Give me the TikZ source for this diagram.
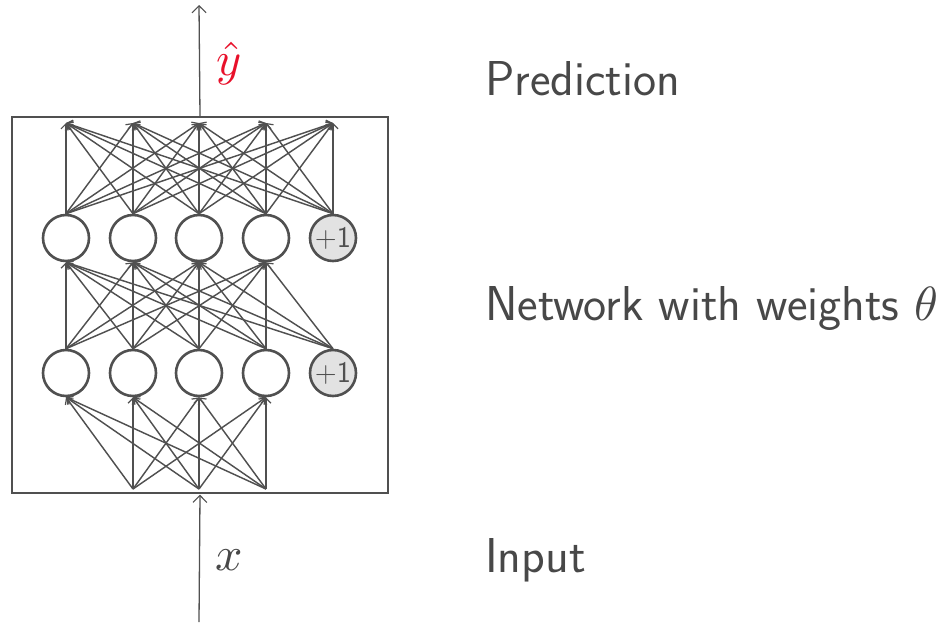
\documentclass[tikz,border=0pt]{standalone}
\usetikzlibrary{arrows.meta}
\definecolor{ln}{HTML}{505050}
\definecolor{txt}{HTML}{484848}
\definecolor{biasfill}{HTML}{E2E2E2}
\definecolor{yred}{HTML}{E8102A}
\begin{document}
\begin{tikzpicture}[x=1pt,y=-1pt,
  neuron/.style={circle,draw=ln,line width=2.6pt,minimum size=46pt,inner sep=0pt,fill=white},
  bias/.style={neuron,fill=biasfill,font=\sffamily\fontsize{30}{30}\selectfont,text=ln},
  wire/.style={draw=ln,line width=1.45pt,-{Straight Barb[length=5pt,width=10pt,line width=1.2pt]}},
  main/.style={draw=ln,line width=1.3pt,-{Straight Barb[length=7pt,width=14pt,line width=1.1pt]}},
  lbl/.style={anchor=base west,inner sep=0pt,text=txt,font=\sffamily\fontsize{49}{54}\selectfont},
  mlbl/.style={anchor=base,inner sep=0pt,font=\normalsize,scale=4.8}]
\useasboundingbox (0,0) rectangle (949,624);
% frame
\node[draw=ln,line width=1.4pt,minimum width=376pt,minimum height=376pt,inner sep=0pt] (frame) at (200,305) {};
% top targets
\foreach \i/\x in {1/66,2/133,3/199,4/266,5/333} {\coordinate (t\i) at (\x,123);}
% inputs
\foreach \i/\x in {1/133,2/199,3/266} {\coordinate (in\i) at (\x,489);}
% hidden layers
\foreach \i/\x in {1/66,2/133,3/199,4/266} {
  \node[neuron] (u\i) at (\x,238) {};
  \node[neuron] (l\i) at (\x,373) {};
}
\node[bias] (u5) at (333,238) {+1};
\node[bias] (l5) at (333,373) {+1};
% connections
\foreach \s in {1,...,5} {\foreach \t in {1,...,5} {\draw[wire] (u\s.north) -- (t\t);}}
\foreach \s in {1,...,5} {\foreach \t in {1,...,4} {\draw[wire] (l\s.north) -- (u\t.south);}}
\foreach \s in {1,2,3} {\foreach \t in {1,...,4} {\draw[wire] (in\s) -- (l\t.south);}}
% main arrows
\coordinate (outtip) at (199,5);
\coordinate (inbot) at (199,622);
\draw[main] (frame.north) -- (outtip);
\draw[main] (inbot) -- ([yshift=-1pt]frame.south);
\node[mlbl,text=yred] (yhat) at (229,75) {$\hat{y}$};
\node[mlbl,text=txt] (xin) at (229,570) {$x$};
% labels
\node[lbl] (pred) at (485,95) {Prediction};
\node[lbl] (net) at (485,320) {Network with weights \scalebox{4.8}{\normalsize$\theta$}};
\node[lbl] (inp) at (485,572) {Input};
\end{tikzpicture}
\end{document}
